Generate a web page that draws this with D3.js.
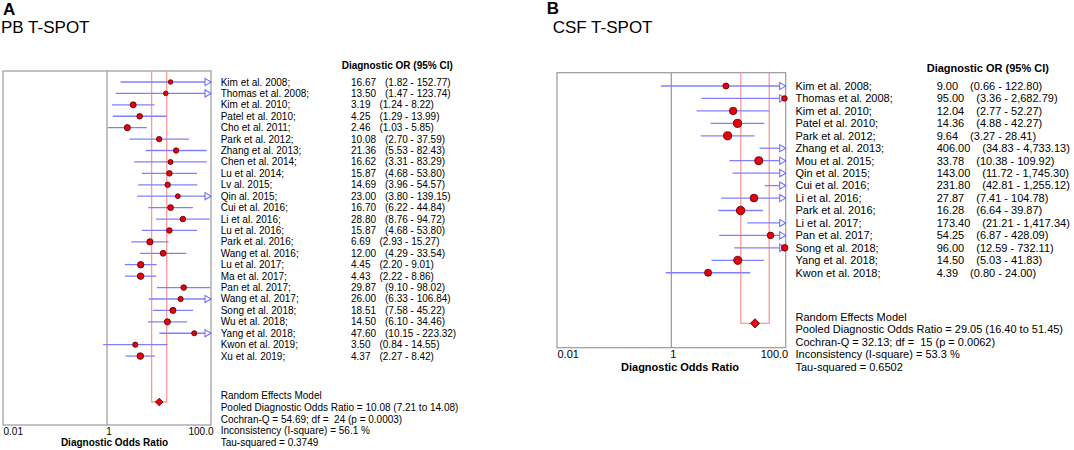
<!DOCTYPE html>
<html>
<head>
<meta charset="utf-8">
<script src="https://cdn.jsdelivr.net/npm/d3@7"></script>
<style>
  body { margin: 0; background: #fff; }
  #chart { width: 1074px; height: 450px; }
  text { font-family: Arial, "Liberation Sans", sans-serif; fill: #000; white-space: pre; }
</style>
</head>
<body>
<div id="chart"></div>
<script>

/*
DATA - PB T-SPOT (panel A)
*/
const pbStudies = ["Kim et al. 2008;", "Thomas et al. 2008;", "Kim et al. 2010;", "Patel et al. 2010;",
    "Cho et al. 2011;", "Park et al. 2012;", "Zhang et al. 2013;", "Chen et al. 2014;", "Lu et al. 2014;",
    "Lv al. 2015;", "Qin al. 2015;", "Cui et al. 2016;", "Li et al. 2016;", "Lu et al. 2016;",
    "Park et al. 2016;", "Wang et al. 2016;", "Lu et al. 2017;", "Ma et al. 2017;", "Pan et al. 2017;",
    "Wang et al. 2017;", "Song et al. 2018;", "Wu et al. 2018;", "Yang et al. 2018;", "Kwon et al. 2019;",
    "Xu et al. 2019;"];
const pbOR = [16.67, 13.50, 3.19, 4.25, 2.46, 10.08, 21.36, 16.62, 15.87, 14.69, 23.00, 16.70, 28.80,
    15.87, 6.69, 12.00, 4.45, 4.43, 29.87, 26.00, 18.51, 14.50, 47.60, 3.50, 4.37];
const pbLower = [1.82, 1.47, 1.24, 1.29, 1.03, 2.70, 5.53, 3.31, 4.68, 3.96, 3.80, 6.22, 8.76,
    4.68, 2.93, 4.29, 2.20, 2.22, 9.10, 6.33, 7.58, 6.10, 10.15, 0.84, 2.27];
const pbUpper = [152.77, 123.74, 8.22, 13.99, 5.85, 37.59, 82.43, 83.29, 53.80, 54.57, 139.15, 44.84, 94.72,
    53.80, 15.27, 33.54, 9.01, 8.86, 98.02, 106.84, 45.22, 34.46, 223.32, 14.55, 8.42];
const pbPooled = [10.08, 7.21, 14.08];
const pbTau2 = 0.3749;
const pbStats = ["Random Effects Model",
    "Pooled Diagnostic Odds Ratio = 10.08 (7.21 to 14.08)",
    "Cochran-Q = 54.69; df =  24 (p = 0.0003)",
    "Inconsistency (I-square) = 56.1 %",
    "Tau-squared = 0.3749"];

/*
DATA - CSF T-SPOT (panel B)
*/
const csfStudies = ["Kim et al. 2008;", "Thomas et al. 2008;", "Kim et al. 2010;", "Patel et al. 2010;",
    "Park et al. 2012;", "Zhang et al. 2013;", "Mou et al. 2015;", "Qin et al. 2015;", "Cui et al. 2016;",
    "Li et al. 2016;", "Park et al. 2016;", "Li et al. 2017;", "Pan et al. 2017;", "Song et al. 2018;",
    "Yang et al. 2018;", "Kwon et al. 2018;"];
const csfOR = [9.00, 95.00, 12.04, 14.36, 9.64, 406.00, 33.78, 143.00, 231.80, 27.87, 16.28, 173.40,
    54.25, 96.00, 14.50, 4.39];
const csfLower = [0.66, 3.36, 2.77, 4.88, 3.27, 34.83, 10.38, 11.72, 42.81, 7.41, 6.64, 21.21,
    6.87, 12.59, 5.03, 0.80];
const csfUpper = [122.80, 2682.79, 52.27, 42.27, 28.41, 4733.13, 109.92, 1745.30, 1255.12, 104.78, 39.87, 1417.34,
    428.09, 732.11, 41.83, 24.00];
const csfPooled = [29.05, 16.40, 51.45];
const csfTau2 = 0.6502;
const csfStats = ["Random Effects Model",
    "Pooled Diagnostic Odds Ratio = 29.05 (16.40 to 51.45)",
    "Cochran-Q = 32.13; df =  15 (p = 0.0062)",
    "Inconsistency (I-square) = 53.3 %",
    "Tau-squared = 0.6502"];

/*
AXIS TICKS
*/
const tickValues = [0.01, 1, 100];
const tickLabels = ["0.01", "1", "100.0"];


const width = 1074;
const height = 450;

const svg = d3.select("#chart")
    .append("svg")
    .attr("width", width)
    .attr("height", height);

const fmt = d3.format(",.2f");

function drawPanel(p) {

    const g = svg.append("g");
    const n = p.studies.length;

    /*
    SCALES
    */
    const xScale = d3.scaleLog()
        .domain([0.01, 100])
        .range([p.x0, p.x1]);

    const yScale = d3.scaleLinear()
        .domain([0, n - 1])
        .range([p.row0, p.row0 + (n - 1) * p.rowStep]);

    // marker size from random-effects weight
    const weights = p.lower.map(function(l, i) {
        let v = Math.pow((Math.log(p.upper[i]) - Math.log(l)) / 3.92, 2);
        return 1 / (v + p.tau2);
    });
    const rScale = d3.scaleLinear()
        .domain(d3.extent(weights))
        .range(p.rRange);

    /*
    TITLES
    */
    g.append("text")
        .attr("x", p.letterX).attr("y", p.letterY)
        .style("font-size", "17px").style("font-weight", "bold")
        .text(p.letter);

    g.append("text")
        .attr("x", p.titleX).attr("y", 33)
        .style("font-size", "17px")
        .text(p.title);

    /*
    FRAME + LINE OF NO EFFECT
    */
    g.append("rect")
        .attr("x", p.x0).attr("y", p.top)
        .attr("width", p.x1 - p.x0).attr("height", p.bottom - p.top)
        .attr("fill", "none").attr("stroke", "#999").attr("stroke-width", 1.2);

    g.append("line")
        .attr("x1", xScale(1)).attr("x2", xScale(1))
        .attr("y1", p.top).attr("y2", p.bottom)
        .attr("stroke", "#999").attr("stroke-width", 1.2);

    /*
    POOLED CI LINES (red)
    */
    g.append("path")
        .attr("d", `M${xScale(p.pooled[1])},${p.top} V${p.diamondY} H${xScale(p.pooled[2])} V${p.top}`)
        .attr("fill", "none").attr("stroke", "#ff9a9a").attr("stroke-width", 1.3);

    /*
    WHISKERS
    */
    const idx = d3.range(n);
    const xMax = xScale.domain()[1];

    g.selectAll(".ci")
        .data(idx)
        .enter()
        .append("line")
            .attr("class", "ci")
            .attr("x1", function(i) { return xScale(Math.max(p.lower[i], 0.01)); })
            .attr("x2", function(i) { return xScale(Math.min(p.upper[i], xMax)); })
            .attr("y1", function(i) { return yScale(i); })
            .attr("y2", function(i) { return yScale(i); })
            .attr("stroke", "#8080ff").attr("stroke-width", 1.3);

    // open arrows where the CI runs past the axis
    g.selectAll(".arrow")
        .data(idx.filter(function(i) { return p.upper[i] > xMax; }))
        .enter()
        .append("path")
            .attr("class", "arrow")
            .attr("d", function(i) {
                let tx = xScale(xMax), ty = yScale(i);
                return `M${tx - 6},${ty - 3.6} L${tx},${ty} L${tx - 6},${ty + 3.6} Z`;
            })
            .attr("fill", "#fff").attr("stroke", "#7070ff").attr("stroke-width", 1.1);

    /*
    POINTS
    */
    g.selectAll(".pt")
        .data(idx.filter(function(i) { return p.or[i] <= xMax; }))
        .enter()
        .append("circle")
            .attr("class", "pt")
            .attr("cx", function(i) { return xScale(p.or[i]); })
            .attr("cy", function(i) { return yScale(i); })
            .attr("r", function(i) { return rScale(weights[i]); })
            .attr("fill", "#e8000b").attr("stroke", "#4a0000").attr("stroke-width", 0.8);

    /*
    POOLED DIAMOND
    */
    let dx = xScale(p.pooled[0]), dy = p.diamondY, ds = p.diamondSize;
    g.append("path")
        .attr("d", `M${dx - ds},${dy} L${dx},${dy - ds} L${dx + ds},${dy} L${dx},${dy + ds} Z`)
        .attr("fill", "#e8000b").attr("stroke", "#4a0000").attr("stroke-width", 0.8);

    /*
    AXIS
    */
    const axis = g.append("g")
        .attr("transform", `translate(0,${p.bottom})`)
        .call(d3.axisBottom(xScale)
            .tickValues(tickValues)
            .tickFormat(function(d, i) { return tickLabels[i]; })
            .tickSize(0)
            .tickPadding(3));

    axis.select(".domain").remove();
    axis.selectAll("text")
        .style("font-size", p.fs + "px")
        .attr("fill", "#000")
        .attr("text-anchor", function(d, i) { return i === 0 ? "start" : (i === tickValues.length - 1 ? "end" : "middle"); })
        .attr("dx", function(d, i) { return i === tickValues.length - 1 ? 2 : (i === 1 ? 1.5 : 0); });
    axis.attr("font-family", null);

    g.append("text")
        .attr("x", p.axisTitleX).attr("y", p.axisTitleY).attr("dy", "0.35em")
        .attr("text-anchor", "middle")
        .style("font-size", p.fs + "px").style("font-weight", "bold")
        .text("Diagnostic Odds Ratio");

    /*
    STUDY LABELS + VALUES
    */
    g.selectAll(".study")
        .data(idx)
        .enter()
        .append("text")
            .attr("class", "study")
            .attr("x", p.labelX)
            .attr("y", function(i) { return yScale(i); })
            .attr("dy", "0.35em")
            .style("font-size", p.fs + "px")
            .text(function(i) { return p.studies[i]; });

    g.append("text")
        .attr("x", p.headerX).attr("y", p.headerY).attr("dy", "0.35em")
        .style("font-size", p.fs + "px").style("font-weight", "bold")
        .text("Diagnostic OR (95% CI)");

    const vals = g.selectAll(".val")
        .data(idx)
        .enter()
        .append("text")
            .attr("class", "val")
            .attr("x", p.valueX)
            .attr("y", function(i) { return yScale(i); })
            .attr("dy", "0.35em")
            .style("font-size", p.fs + "px");

    vals.append("tspan").text(function(i) { return fmt(p.or[i]); });
    vals.append("tspan").attr("dx", p.ciGap)
        .text(function(i) { return `(${fmt(p.lower[i])} - ${fmt(p.upper[i])})`; });

    /*
    SUMMARY STATISTICS
    */
    g.selectAll(".stat")
        .data(p.stats)
        .enter()
        .append("text")
            .attr("class", "stat")
            .attr("x", p.labelX)
            .attr("y", function(d, i) { return p.footY0 + i * p.footStep; })
            .attr("dy", "0.35em")
            .style("font-size", p.fs + "px")
            .text(function(d) { return d; });
}

drawPanel({
    studies: pbStudies, or: pbOR, lower: pbLower, upper: pbUpper,
    pooled: pbPooled, tau2: pbTau2, stats: pbStats,
    letter: "A", letterX: 3, letterY: 15, title: "PB T-SPOT", titleX: 1,
    x0: 3, x1: 211, top: 71, bottom: 425,
    row0: 82, rowStep: 11.42, diamondY: 402, diamondSize: 3.8,
    rRange: [2.3, 3.3], fs: 10,
    labelX: 220.7, headerX: 341.7, headerY: 65, valueX: 351, ciGap: 9,
    footY0: 395.7, footStep: 11.75,
    axisTitleX: 114.5, axisTitleY: 442.7
});

drawPanel({
    studies: csfStudies, or: csfOR, lower: csfLower, upper: csfUpper,
    pooled: csfPooled, tau2: csfTau2, stats: csfStats,
    letter: "B", letterX: 546.7, letterY: 14, title: "CSF T-SPOT", titleX: 552.7,
    x0: 557, x1: 785.7, top: 72.7, bottom: 347.7,
    row0: 86, rowStep: 12.45, diamondY: 323.3, diamondSize: 4.6,
    rRange: [2.8, 4.3], fs: 11,
    labelX: 795.5, headerX: 926.7, headerY: 67.7, valueX: 936.7, ciGap: 12,
    footY0: 316.7, footStep: 12.5,
    axisTitleX: 680, axisTitleY: 367
});

</script>
</body>
</html>
